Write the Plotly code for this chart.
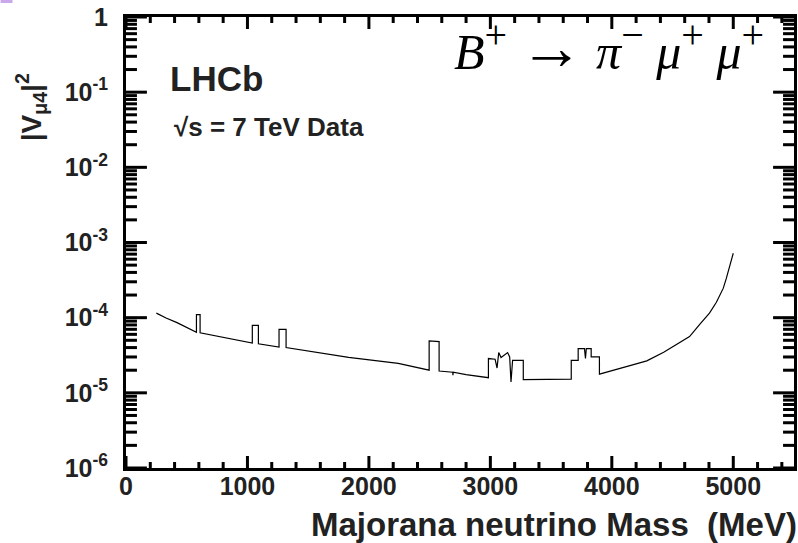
import plotly.graph_objects as go

# Majorana neutrino mass (MeV) and |V_mu4|^2 upper limit
mass = [250, 330, 420, 500, 580, 580, 610, 610, 800, 1040, 1040, 1090, 1090,
        1260, 1260, 1318, 1318, 1600, 1833, 2242, 2496, 2496, 2578, 2578,
        2690, 2692, 2694, 2800, 2984, 2984, 3039, 3055, 3069, 3088, 3115,
        3142, 3159, 3170, 3183, 3271, 3271, 3666, 3666, 3723, 3723, 3775,
        3783, 3790, 3830, 3830, 3898, 3898, 4149, 4288, 4427, 4640, 4722,
        4804, 4861, 4918, 4942, 4967, 4984, 5000]
limit = [1.15e-4, 9.9e-5, 8.6e-5, 7.4e-5, 6.4e-5, 1.1e-4, 1.1e-4, 6.3e-5,
         5.5e-5, 4.6e-5, 7.9e-5, 7.9e-5, 4.5e-5, 4.07e-5, 7.0e-5, 7.0e-5,
         4.0e-5, 3.4e-5, 2.97e-5, 2.46e-5, 2.0e-5, 4.9e-5, 4.8e-5, 1.95e-5,
         1.88e-5, 1.72e-5, 1.88e-5, 1.75e-5, 1.59e-5, 2.86e-5, 2.8e-5,
         2.14e-5, 3.43e-5, 2.95e-5, 3.23e-5, 3.43e-5, 3.0e-5, 1.39e-5,
         2.71e-5, 2.71e-5, 1.5e-5, 1.52e-5, 2.71e-5, 2.71e-5, 3.88e-5,
         3.88e-5, 2.86e-5, 3.88e-5, 3.88e-5, 3.0e-5, 3.0e-5, 1.77e-5,
         2.3e-5, 2.66e-5, 3.47e-5, 5.6e-5, 8.1e-5, 1.15e-4, 1.6e-4, 2.47e-4,
         3.3e-4, 4.7e-4, 5.8e-4, 7.2e-4]

x_range = [0, 5500]
y_range_log = [-6, 0]
x_ticks = [0, 1000, 2000, 3000, 4000, 5000]
x_tick_labels = ["0", "1000", "2000", "3000", "4000", "5000"]
x_minor_ticks = [v for v in range(200, 5500, 200) if v % 1000 != 0]
y_ticks = [1, 1e-1, 1e-2, 1e-3, 1e-4, 1e-5, 1e-6]
y_tick_labels = ["1", "10<sup>-1</sup>", "10<sup>-2</sup>", "10<sup>-3</sup>",
                 "10<sup>-4</sup>", "10<sup>-5</sup>", "10<sup>-6</sup>"]
y_minor_ticks = [d * 10.0 ** e for e in range(-6, 0) for d in range(2, 10)]

FONT = "Liberation Sans"
W, H = 798, 543
ML, MR, MT, MB = 126, 1, 17, 75
PW, PH = W - ML - MR, H - MT - MB
px_per_decade = PH / (y_range_log[1] - y_range_log[0])
x_per_px = (x_range[1] - x_range[0]) / PW

fig = go.Figure()
fig.add_trace(go.Scatter(x=mass, y=limit, mode="lines",
                         line=dict(color="black", width=1.2), showlegend=False))


def x_tick_segments(vals, length_px):
    f = 10 ** (length_px / px_per_decade)
    lo, hi = 10 ** y_range_log[0], 10 ** y_range_log[1]
    xs, ys = [], []
    for v in vals:
        xs += [v, v, None, v, v, None]
        ys += [lo, lo * f, None, hi, hi / f, None]
    return xs, ys


def y_tick_segments(vals, length_px):
    d = length_px * x_per_px
    xs, ys = [], []
    for v in vals:
        xs += [x_range[0], x_range[0] + d, None, x_range[1] - d, x_range[1], None]
        ys += [v, v, None, v, v, None]
    return xs, ys


for seg in (x_tick_segments(x_ticks, 12), x_tick_segments(x_minor_ticks, 6),
            y_tick_segments(y_ticks, 21), y_tick_segments(y_minor_ticks, 11)):
    fig.add_trace(go.Scatter(x=seg[0], y=seg[1], mode="lines",
                             line=dict(color="black", width=3),
                             hoverinfo="skip", showlegend=False))

axis_common = dict(showgrid=False, zeroline=False, showline=True,
                   linecolor="black", linewidth=3, mirror=True, ticks="",
                   tickfont=dict(family=FONT, size=25, color="#222",
                                 weight="bold"))

fig.update_xaxes(range=x_range, tickmode="array", tickvals=x_ticks,
                 ticktext=x_tick_labels, ticklabelstandoff=-6, **axis_common)
fig.update_yaxes(type="log", range=y_range_log, tickmode="array",
                 tickvals=y_ticks, ticktext=y_tick_labels,
                 ticklabelstandoff=10, **axis_common)

fig.add_annotation(text="<b>LHCb</b>", xref="paper", yref="paper",
                   x=0.0636, y=0.863, xanchor="left", yanchor="middle",
                   showarrow=False, font=dict(family=FONT, size=35, color="#222"))
fig.add_annotation(text="<b>\u221As = 7 TeV Data</b>", xref="paper", yref="paper",
                   x=0.0686, y=0.757, xanchor="left", yanchor="middle",
                   showarrow=False, font=dict(family=FONT, size=26, color="#222"))
fig.add_annotation(
    text=("<i>B</i><sup><span style='font-size:40px'>+</span></sup>"
          " <span style='font-size:64px'>\u2192</span> "
          "<i>\u03c0</i><sup><span style='font-size:40px'>\u2212</span></sup> "
          "<i>\u03bc</i><sup><span style='font-size:40px'>+</span></sup> "
          "<i>\u03bc</i><sup><span style='font-size:40px'>+</span></sup>"),
    xref="paper", yref="paper", x=0.958, y=0.932,
    xanchor="right", yanchor="middle", showarrow=False,
    font=dict(family="Liberation Serif", size=50, color="black"))
fig.add_annotation(text="<b>|V<sub>\u03bc4</sub>|<sup>2</sup></b>", xref="paper",
                   yref="paper", x=-0.142, y=0.8, xanchor="center",
                   yanchor="middle", textangle=-90, showarrow=False,
                   font=dict(family=FONT, size=28, color="#222"))
fig.add_annotation(text="<b>Majorana neutrino Mass  (MeV)</b>", xref="paper",
                   yref="paper", x=1.008, y=-0.125, xanchor="right",
                   yanchor="middle", showarrow=False,
                   font=dict(family=FONT, size=33, color="#222"))

fig.add_shape(type="rect", xref="paper", yref="paper",
              x0=-ML / PW, x1=(12 - ML) / PW, y0=(PH + MT) / PH,
              y1=(PH + MT - 3) / PH, fillcolor="#c9a8ec", line=dict(width=0))

fig.update_layout(width=W, height=H,
                  margin=dict(l=ML, r=MR, t=MT, b=MB, pad=0),
                  plot_bgcolor="white", paper_bgcolor="white")

fig.write_html("out.html")
